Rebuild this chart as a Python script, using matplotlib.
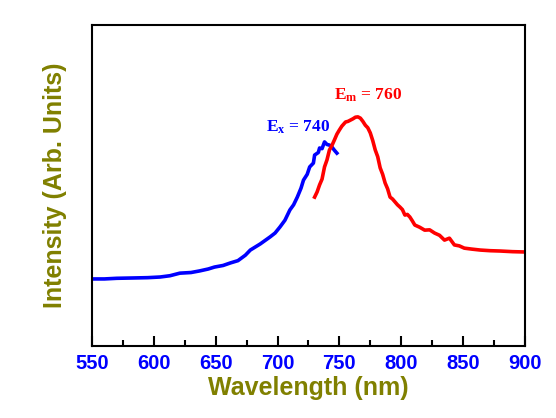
import numpy as np
import matplotlib.pyplot as plt
from matplotlib.ticker import MultipleLocator

# excitation (blue) and emission (red) spectra
ex_wl = [550, 560, 570, 583, 595, 605, 613, 621, 630, 637, 644, 649, 656, 662, 668,
         674, 678, 686, 694, 698, 702, 706, 710, 713, 716, 719, 721, 724, 726, 729,
         730, 733, 734, 736, 738, 740, 742, 744, 746, 748]
ex_int = [0.209, 0.209, 0.211, 0.212, 0.213, 0.215, 0.219, 0.227, 0.229, 0.234, 0.240,
          0.246, 0.251, 0.259, 0.266, 0.283, 0.299, 0.318, 0.340, 0.352, 0.371, 0.392,
          0.424, 0.440, 0.464, 0.492, 0.517, 0.535, 0.558, 0.570, 0.595, 0.603, 0.617,
          0.615, 0.636, 0.628, 0.626, 0.620, 0.610, 0.601]

em_wl = [730, 732, 734, 736, 738, 740, 742, 744, 746, 748, 750, 752, 755, 757, 759,
         761, 763, 765, 767, 769, 771, 773, 775, 777, 779, 781, 783, 785, 787, 789,
         791, 793, 795, 797, 799, 801, 803, 805, 807, 809, 811, 815, 819, 823, 827,
         831, 835, 839, 843, 847, 851, 857, 864, 872, 880, 890, 900]
em_int = [0.464, 0.480, 0.502, 0.520, 0.558, 0.580, 0.611, 0.625, 0.642, 0.660, 0.673,
          0.685, 0.698, 0.700, 0.704, 0.708, 0.713, 0.714, 0.710, 0.700, 0.688, 0.680,
          0.664, 0.640, 0.611, 0.590, 0.555, 0.535, 0.508, 0.490, 0.464, 0.458, 0.449,
          0.440, 0.433, 0.425, 0.408, 0.410, 0.402, 0.390, 0.377, 0.370, 0.361, 0.362,
          0.352, 0.345, 0.330, 0.336, 0.315, 0.312, 0.305, 0.302, 0.299, 0.297, 0.296,
          0.294, 0.293]

xticks = [550, 600, 650, 700, 750, 800, 850, 900]

plt.rcParams['mathtext.fontset'] = 'custom'
plt.rcParams['mathtext.rm'] = 'Liberation Serif:bold'
plt.rcParams['mathtext.it'] = 'Liberation Serif:bold'
plt.rcParams['mathtext.bf'] = 'Liberation Serif:bold'

fig = plt.figure(figsize=(5.56, 4.18), dpi=100)
ax = fig.add_axes([0.1655, 0.1722, 0.7785, 0.7678])

ax.plot(ex_wl, ex_int, color='blue', lw=2.6)
ax.plot(em_wl, em_int, color='red', lw=2.6)

ax.set_xlim(550, 900)
ax.set_ylim(0, 1)
ax.set_xticks(xticks)
ax.xaxis.set_minor_locator(MultipleLocator(25))
ax.set_yticks([])
ax.tick_params(axis='x', which='major', direction='in', length=7, width=1.5, pad=6)
ax.tick_params(axis='x', which='minor', direction='in', length=4, width=1.5)
for lab in ax.get_xticklabels():
    lab.set_fontfamily('Liberation Sans')
    lab.set_fontweight('bold')
    lab.set_fontsize(14.5)
    lab.set_color('blue')
for sp in ax.spines.values():
    sp.set_linewidth(1.5)

ax.set_xlabel('Wavelength (nm)', fontsize=18, fontweight='bold', color='#808000',
              family='Liberation Sans', labelpad=2)
ax.set_ylabel('Intensity (Arb. Units)', fontsize=18, fontweight='bold', color='#808000',
              family='Liberation Sans', labelpad=18)

ax.text(691, 0.655, r'$\mathregular{E_x}$ = 740', color='blue', fontsize=12.5,
        family='Liberation Serif', fontweight='bold', va='bottom')
ax.text(746, 0.755, r'$\mathregular{E_m}$ = 760', color='red', fontsize=12.5,
        family='Liberation Serif', fontweight='bold', va='bottom')

fig.savefig('out.png', dpi=100)
